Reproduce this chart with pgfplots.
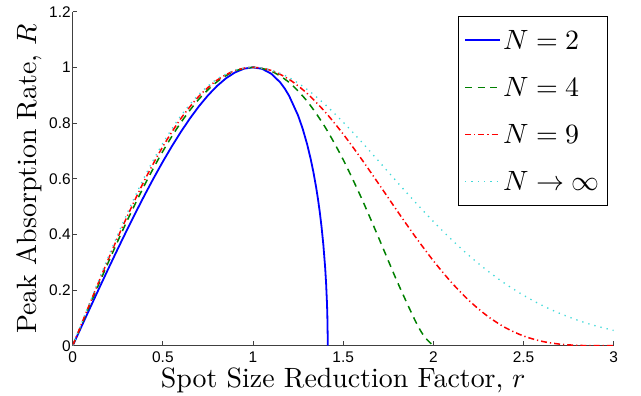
\documentclass[border=0pt]{standalone}
\usepackage{pgfplots}
\pgfplotsset{compat=1.18}
\usepackage{fontspec}
\usepackage{unicode-math}
\setmainfont{lmroman10-regular.otf}[ItalicFont=lmroman10-italic.otf]
\setmathfont{latinmodern-math.otf}
\newfontfamily\ticksf{Liberation Sans}
\definecolor{mblue}{rgb}{0,0,1}
\definecolor{mgreen}{rgb}{0,0.5,0}
\definecolor{mred}{rgb}{1,0,0}
\definecolor{mcyan}{rgb}{0.25,0.85,0.85}
\pgfplotsset{
  every axis plot/.append style={
    legend image code/.code={\draw[##1] (0bp,0bp) -- (35bp,0bp);}
  }
}
\begin{document}
\begin{tikzpicture}
\begin{axis}[
  scale only axis, width=541bp, height=334bp,
  xmin=0, xmax=3, ymin=0, ymax=1.2,
  axis x line*=bottom, axis y line*=left,
  axis line style={-, black!75, line width=0.8bp},
  xtick={0,0.5,1,1.5,2,2.5,3},
  xticklabels={0,0.5,1,1.5,2,2.5,3},
  ytick={0,0.2,0.4,0.6,0.8,1,1.2},
  yticklabels={0,0.2,0.4,0.6,0.8,1,1.2},
  tick align=inside, major tick length=4.5bp,
  tick style={black!75, line width=0.8bp},
  /pgf/number format/assume math mode=true,
  ticklabel style={font=\ticksf\fontsize{15.5}{15.5}\selectfont},
  xticklabel style={inner ysep=0bp, yshift=-6bp},
  yticklabel style={xshift=1.5bp},
  xlabel={Spot Size Reduction Factor, $r$},
  ylabel={Peak Absorption Rate, $R$},
  label style={font=\fontsize{28}{30}\selectfont, inner sep=0bp},
  xlabel style={at={(axis description cs:0.5,0)}, anchor=base, yshift=-41.5bp},
  ylabel style={at={(axis description cs:0,0.5)}, anchor=base, yshift=35.7bp},
  legend style={at={(0.99,0.988)}, anchor=north east, draw=black, line width=1.1bp,
    inner xsep=6bp, inner ysep=12bp, row sep=23bp,
    font=\fontsize{28}{30}\selectfont,
    nodes={inner sep=2bp, text height=19bp, text depth=1bp}},
  legend cell align=left,
]
\addplot[mblue, line width=1.8bp] coordinates {
(0,0)(0.05,0.07067)(0.1,0.14107)(0.15,0.21094)(0.2,0.28)(0.25,0.34799)(0.3,0.41461)
(0.35,0.47958)(0.4,0.54259)(0.45,0.60332)(0.5,0.66144)(0.55,0.71659)(0.6,0.76837)
(0.65,0.81639)(0.7,0.86017)(0.75,0.89922)(0.8,0.93295)(0.85,0.96073)(0.9,0.98178)
(0.95,0.99524)(1,1)(1.05,0.99473)(1.1,0.97770)(1.15,0.94657)(1.175,0.92474)(1.2,0.89800)
(1.25,0.82680)(1.275,0.78012)(1.3,0.72381)(1.32,0.66996)(1.335,0.62299)(1.35,0.56877)
(1.36,0.52742)(1.37,0.48068)(1.38,0.42668)(1.39,0.36220)(1.4,0.28)(1.405,0.22644)
(1.41,0.15381)(1.412,0.11169)(1.414,0.03475)(1.4142,0)
};
\addlegendentry{$N=2$}
\addplot[mgreen, line width=1.5bp, dash pattern=on 7bp off 5.5bp, smooth] coordinates {
(0,0)(0.1,0.15338)(0.2,0.30331)(0.3,0.44638)(0.4,0.57926)(0.5,0.69877)(0.6,0.80190)
(0.7,0.88589)(0.8,0.94824)(0.9,0.98684)(1,1)(1.1,0.98655)(1.2,0.94594)(1.3,0.87838)
(1.4,0.78503)(1.5,0.66830)(1.6,0.53209)(1.7,0.38261)(1.8,0.22951)(1.9,0.08906)
(1.95,0.03294)(2,0)
};
\addlegendentry{$N=4$}
\addplot[mred, line width=1.5bp, dash pattern=on 6bp off 3bp on 1.2bp off 3bp, smooth] coordinates {
(0,0)(0.1,0.15947)(0.2,0.31470)(0.3,0.46160)(0.4,0.59636)(0.5,0.71556)(0.6,0.81629)
(0.7,0.89631)(0.8,0.95402)(0.9,0.98860)(1,1)(1.1,0.98897)(1.2,0.95699)(1.3,0.90626)
(1.4,0.83958)(1.5,0.76023)(1.6,0.67190)(1.7,0.57844)(1.8,0.48373)(1.9,0.39151)
(2,0.30518)(2.1,0.22757)(2.2,0.16086)(2.3,0.10638)(2.4,0.06457)(2.5,0.03491)
(2.6,0.01598)(2.7,0.00564)(2.8,0.00124)(2.9,0.00009)(3,0)
};
\addlegendentry{$N=9$}
\addplot[mcyan, line width=1.3bp, dash pattern=on 1.3bp off 5bp, smooth] coordinates {
(0,0)(0.1,0.16405)(0.2,0.32321)(0.3,0.47285)(0.4,0.60878)(0.5,0.72750)(0.6,0.82628)
(0.7,0.90332)(0.8,0.95777)(0.9,0.98969)(1,1)(1.1,0.99035)(1.2,0.96302)(1.3,0.92069)
(1.4,0.86629)(1.5,0.80289)(1.6,0.73345)(1.7,0.66076)(1.8,0.58731)(1.9,0.51522)
(2,0.44626)(2.1,0.38174)(2.2,0.32254)(2.3,0.26926)(2.4,0.22212)(2.5,0.18110)
(2.6,0.14594)(2.7,0.11629)(2.8,0.09159)(2.9,0.07132)(3,0.05495)
};
\addlegendentry{$N\rightarrow\infty$}
\end{axis}
\pgfresetboundingbox
\useasboundingbox ([shift={(-72.7bp,-50bp)}]current axis.south west) rectangle ([shift={(27.3bp,11.7bp)}]current axis.north east);
\end{tikzpicture}
\end{document}
